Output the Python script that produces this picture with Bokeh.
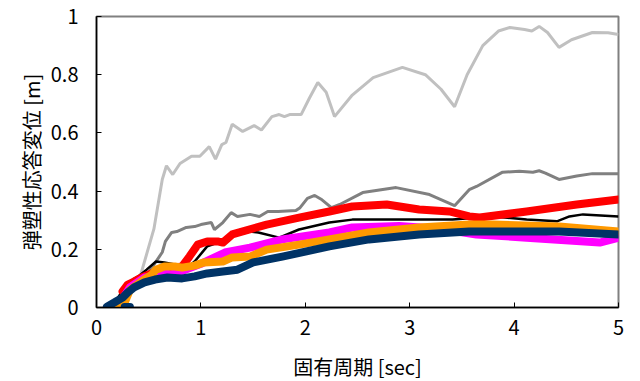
from bokeh.plotting import figure
from bokeh.embed import file_html
from bokeh.resources import INLINE
from bokeh.models import Range1d, FixedTicker
import numpy as np

# Light gray series
t_lg = [0.10, 0.30, 0.41, 0.55, 0.63, 0.67, 0.73, 0.80, 0.91, 0.99, 1.08, 1.14, 1.20, 1.24, 1.30, 1.40, 1.51, 1.58,
        1.68, 1.75, 1.80, 1.85, 1.96, 2.04, 2.12, 2.20, 2.28, 2.45, 2.65, 2.93, 3.15, 3.30, 3.43, 3.55, 3.70, 3.85,
        3.96, 4.10, 4.17, 4.24, 4.32, 4.43, 4.55, 4.75, 4.90, 5.00]
d_lg = [0.0, 0.06, 0.096, 0.27, 0.44, 0.487, 0.457, 0.495, 0.52, 0.52, 0.553, 0.51, 0.56, 0.567, 0.63, 0.605, 0.625, 0.61,
        0.656, 0.663, 0.656, 0.663, 0.663, 0.72, 0.773, 0.74, 0.656, 0.73, 0.79, 0.825, 0.80, 0.75, 0.69, 0.80, 0.90, 0.95,
        0.962, 0.955, 0.95, 0.966, 0.945, 0.894, 0.92, 0.945, 0.944, 0.938]

# Gray series
t_g = [0.10, 0.30, 0.50, 0.63, 0.66, 0.72, 0.77, 0.86, 0.94, 1.00, 1.10, 1.13, 1.21, 1.29, 1.35, 1.47, 1.56, 1.64, 1.74,
       1.91, 1.95, 2.02, 2.09, 2.16, 2.25, 2.33, 2.55, 2.87, 3.19, 3.43, 3.57, 3.64, 3.89, 4.05, 4.18, 4.24, 4.30, 4.43,
       4.60, 4.75, 5.00]
d_g = [0.0, 0.06, 0.12, 0.19, 0.227, 0.258, 0.261, 0.275, 0.278, 0.285, 0.292, 0.268, 0.292, 0.326, 0.313, 0.32, 0.313,
       0.33, 0.33, 0.333, 0.343, 0.375, 0.385, 0.37, 0.343, 0.354, 0.395, 0.412, 0.388, 0.35, 0.405, 0.416, 0.465, 0.468,
       0.465, 0.47, 0.462, 0.44, 0.452, 0.46, 0.46]

# Black series
t_k = [0.10, 0.20, 0.30, 0.40, 0.48, 0.57, 0.65, 0.75, 0.84, 0.94, 1.06, 1.11, 1.30, 1.47, 1.55, 1.75, 1.94, 2.23,
       2.45, 2.93, 3.41, 3.80, 4.12, 4.41, 4.53, 4.66, 5.00]
d_k = [0.0, 0.03, 0.086, 0.107, 0.13, 0.158, 0.155, 0.148, 0.13, 0.158, 0.21, 0.216, 0.245, 0.261, 0.258, 0.24, 0.268,
       0.292, 0.302, 0.302, 0.302, 0.313, 0.302, 0.296, 0.313, 0.32, 0.313]

# Red series
t_r = [0.25, 0.30, 0.36, 0.43, 0.55, 0.70, 0.82, 0.89, 0.97, 1.06, 1.16, 1.21, 1.30, 1.63, 1.94, 2.23, 2.45, 2.78,
       3.09, 3.38, 3.57, 3.67, 4.12, 4.60, 5.00]
d_r = [0.055, 0.079, 0.089, 0.103, 0.12, 0.135, 0.141, 0.175, 0.216, 0.227, 0.227, 0.223, 0.251, 0.285, 0.309, 0.33,
       0.347, 0.354, 0.337, 0.33, 0.313, 0.309, 0.33, 0.354, 0.371]

# Magenta series
t_m = [0.20, 0.25, 0.32, 0.46, 0.56, 0.62, 0.72, 0.85, 1.00, 1.23, 1.47, 1.78, 2.23, 2.45, 2.90, 3.30, 3.64, 4.12,
       4.82, 5.00]
d_m = [0.0, 0.03, 0.069, 0.103, 0.107, 0.12, 0.113, 0.13, 0.15, 0.189, 0.206, 0.234, 0.258, 0.275, 0.28, 0.27, 0.251,
       0.24, 0.223, 0.24]

# Orange series
t_o = [0.20, 0.25, 0.32, 0.45, 0.53, 0.57, 0.65, 0.75, 0.82, 0.94, 1.03, 1.21, 1.30, 1.47, 1.63, 1.94, 2.23, 2.61,
       3.09, 3.57, 3.80, 4.43, 5.00]
d_o = [0.0, 0.0, 0.06, 0.095, 0.113, 0.13, 0.141, 0.141, 0.137, 0.144, 0.155, 0.158, 0.172, 0.175, 0.199, 0.216, 0.234,
       0.258, 0.275, 0.285, 0.285, 0.278, 0.261]

# Navy series (with a detached short piece near the origin)
t_n = [0.10, 0.17, 0.25, 0.30, 0.36, 0.46, 0.56, 0.68, 0.82, 0.94, 1.06, 1.21, 1.35, 1.50, 1.78, 2.23, 2.61, 3.09,
       3.57, 3.80, 4.43, 5.00, np.nan, 0.27, 0.32]
d_n = [0.003, 0.017, 0.034, 0.052, 0.069, 0.086, 0.096, 0.103, 0.10, 0.107, 0.117, 0.124, 0.13, 0.155, 0.175, 0.21,
       0.234, 0.251, 0.261, 0.261, 0.261, 0.251, np.nan, 0.002, 0.002]

x_ticks = [0, 1, 2, 3, 4, 5]
y_ticks = [0, 0.2, 0.4, 0.6, 0.8, 1.0]

p = figure(width=631, height=377, output_backend="svg", toolbar_location=None,
           x_range=Range1d(0, 5), y_range=Range1d(0, 1),
           min_border_left=96, min_border_right=13, min_border_top=16, min_border_bottom=70)
p.frame_width = 522
p.frame_height = 291

p.xgrid.visible = False
p.ygrid.visible = False
p.outline_line_color = "#808080"
p.outline_line_width = 2

font = "Noto Sans CJK JP"
for ax in (p.xaxis[0], p.yaxis[0]):
    ax.axis_line_color = "black"
    ax.axis_line_width = 1.5
    ax.major_tick_in = 5
    ax.major_tick_out = 0
    ax.minor_tick_in = 0
    ax.minor_tick_out = 0
    ax.major_tick_line_color = "black"
    ax.major_label_text_font = font
    ax.major_label_text_font_size = "20px"
    ax.major_label_text_color = "black"
    ax.axis_label_text_font = font
    ax.axis_label_text_font_size = "20px"
    ax.axis_label_text_font_style = "normal"
    ax.axis_label_text_color = "black"

p.xaxis.ticker = FixedTicker(ticks=x_ticks)
p.yaxis.ticker = FixedTicker(ticks=y_ticks)
p.yaxis.major_label_overrides = {0: "0", 0.2: "0.2", 0.4: "0.4", 0.6: "0.6", 0.8: "0.8", 1.0: "1"}
p.xaxis.major_label_standoff = 12
p.yaxis.major_label_standoff = 18
p.xaxis.axis_label = "固有周期 [sec]"
p.yaxis.axis_label = "弾塑性応答変位 [m]"
p.xaxis.axis_label_standoff = 14
p.yaxis.axis_label_standoff = 2

p.line(t_lg, d_lg, line_color="#c0c0c0", line_width=3)
p.line(t_g, d_g, line_color="#808080", line_width=3)
p.line(t_k, d_k, line_color="black", line_width=2.5)
p.line(t_r, d_r, line_color="#ff0000", line_width=8, line_cap="round", line_join="round")
p.line(t_m, d_m, line_color="#ff00ff", line_width=8, line_cap="round", line_join="round")
p.line(t_o, d_o, line_color="#ff9900", line_width=8, line_cap="round", line_join="round")
p.line(t_n, d_n, line_color="#003366", line_width=8, line_cap="round", line_join="round")

open("out.html", "w").write(file_html(p, INLINE))
